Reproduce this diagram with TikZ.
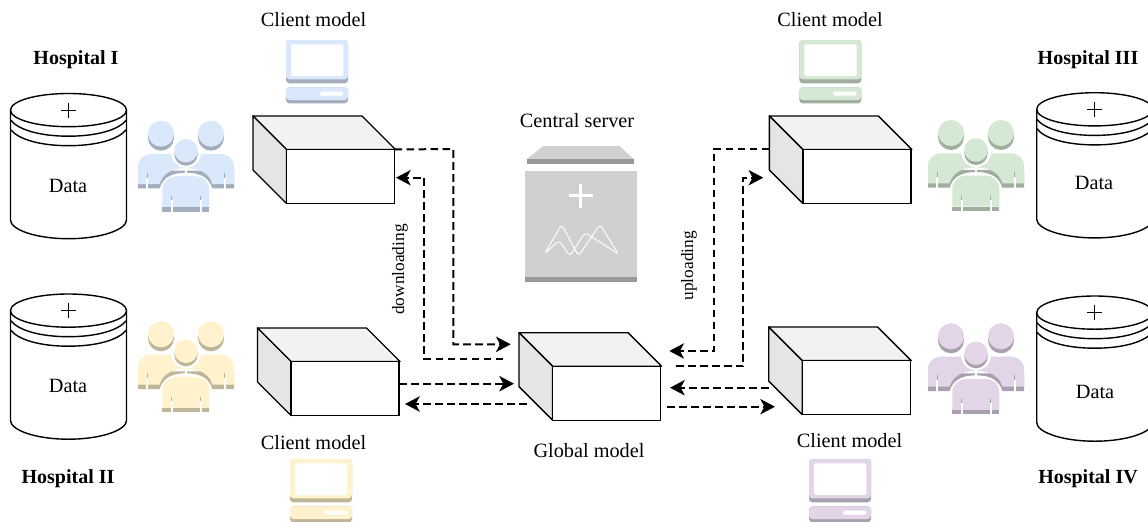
\documentclass[tikz,border=0pt]{standalone}
\usepackage{fontspec}
\setmainfont{Liberation Serif}
\usetikzlibrary{arrows.meta}
\definecolor{blueM}{HTML}{DAE8FC}\definecolor{blueS}{HTML}{A3ADBD}
\definecolor{yelM}{HTML}{FFF2CC}\definecolor{yelS}{HTML}{BFB599}
\definecolor{greenM}{HTML}{D5E8D4}\definecolor{greenS}{HTML}{A0AE9F}
\definecolor{purM}{HTML}{E1D5E7}\definecolor{purS}{HTML}{A9A0AD}
\definecolor{srvM}{HTML}{D0D0D0}\definecolor{srvS}{HTML}{999999}
\tikzset{
  x=0.75pt,y=-0.75pt,
  lbl/.style={font=\fontsize{15.2}{18}\selectfont,inner sep=0pt,outer sep=0pt},
  small/.style={font=\fontsize{13}{16}\selectfont,inner sep=0pt,outer sep=0pt},
  head/.style={lbl,font=\fontsize{15}{18}\selectfont\bfseries},
  stroke/.style={line width=1.05pt,line join=round,draw=black},
  face/.style={draw=black,fill=white,line width=1.05pt,minimum width=81pt,minimum height=40.5pt,inner sep=0pt,outer sep=0pt,anchor=north west},
  flow/.style={line width=1.5pt,dash pattern=on 5.8pt off 3.2pt,-{Stealth[length=11pt,width=11.5pt,inset=3pt]}},
}
% name, back-top-left x, y
\newcommand\cuboid[3]{%
  \begin{scope}[shift={(#2,#3)}]
    \fill[stroke,fill=black!5] (0,0) -- (109,0) -- (142.5,33.5) -- (33.5,33.5) -- cycle;
    \fill[stroke,fill=black!10] (0,0) -- (33.5,33.5) -- (33.5,87.5) -- (0,54) -- cycle;
    \node[face] (#1) at (33.5,33.5) {};
  \end{scope}}
% name, left x, top y
\newcommand\datastore[3]{%
  \begin{scope}[shift={(#2,#3)}]
    \path[stroke,fill=white] (0,16.6) -- (0,126.5) .. controls (0,136) and (25,145.2) .. (58,145.2) .. controls (91,145.2) and (116,136) .. (116,126.5) -- (116,16.6) -- cycle;
    \draw[stroke] (0,36) .. controls (8,46) and (30,52.2) .. (58,52.2) .. controls (86,52.2) and (108,46) .. (116,36);
    \draw[stroke] (0,26.5) .. controls (8,36.5) and (30,42.7) .. (58,42.7) .. controls (86,42.7) and (108,36.5) .. (116,26.5);
    \path[stroke,fill=white] (58,16.6) ellipse [x radius=58,y radius=16.6];
    \draw[line width=0.6pt] (50.5,16.5) -- (65.5,16.5) (58,9) -- (58,24);
    \coordinate (#1) at (58,16.6);
  \end{scope}}
\newcommand\sideperson[2]{%
  \fill[#2] (0,67.7) -- (0,50) -- (46.8,50) -- (46.8,52) .. controls (33,52) and (24,58.4) .. (21.7,67.7) -- cycle;
  \fill[#1] (0,63.3) -- (0,46) .. controls (0,38) and (6,33.3) .. (14,33.3) -- (46.8,33.3) -- (46.8,47.5) .. controls (33,47.5) and (24,54) .. (21.7,63.3) -- cycle;
  \draw[#2,line width=0.9pt] (9.3,52) -- (9.3,57);
  \draw[white,line width=1.4pt] (9.3,57) -- (9.3,68);
  \fill[#2] (23,17) circle [radius=13];
  \fill[#1] (23,13) circle [radius=13];}
% x, y, main, shade
\newcommand\people[4]{%
  \begin{scope}[shift={(#1,#2)}]
    \sideperson{#3}{#4}
    \begin{scope}[shift={(96,0)},xscale=-1]\sideperson{#3}{#4}\end{scope}
    \fill[white] (48,32) circle [radius=15];
    \fill[#4] (48,33.3) circle [radius=11.7];
    \fill[#3] (48,30) circle [radius=11.7];
    \path[fill=#3,draw=white,line width=2.2pt] (24.3,86.6) -- (24.3,69) .. controls (24.3,61) and (31,55.5) .. (38,55.5) -- (58,55.5) .. controls (65,55.5) and (71.3,61) .. (71.3,69) -- (71.3,86.6) -- cycle;
    \fill[#3] (24.3,86.6) -- (24.3,69) .. controls (24.3,61) and (31,55.5) .. (38,55.5) -- (58,55.5) .. controls (65,55.5) and (71.3,61) .. (71.3,69) -- (71.3,86.6) -- cycle;
    \fill[#4] (24.3,91) rectangle (71.3,86.6);
    \draw[#4,line width=0.9pt] (33.7,75.5) -- (33.7,79.5) (62.7,75.5) -- (62.7,79.5);
    \draw[white,line width=1.4pt] (33.7,79.5) -- (33.7,91.3) (62.7,79.5) -- (62.7,91.3);
  \end{scope}}
\newcommand\computer[4]{%
  \begin{scope}[shift={(#1,#2)}]
    \fill[#4,rounded corners=2.5pt] (0,0) rectangle (62,43.3);
    \fill[#3,rounded corners=2.5pt] (0,0) rectangle (62,39.3);
    \fill[white,rounded corners=1.2pt] (5,4.3) rectangle (57.3,36);
    \fill[#4,rounded corners=2.5pt] (0,47.3) rectangle (62,63.3);
    \fill[#3,rounded corners=2.5pt] (0,47.3) rectangle (62,60);
    \fill[white,rounded corners=1pt] (34,51.7) rectangle (57.3,55.7);
  \end{scope}}
\begin{document}
\begin{tikzpicture}
\clip (0,0) rectangle (1148,521);
\fill[white] (0,0) rectangle (1148,521);
% hospitals
\datastore{dsA}{10.5}{93.5}
\datastore{dsB}{10.5}{294}
\datastore{dsC}{1036.7}{92.7}
\datastore{dsD}{1036.7}{296}
\node[lbl] (tA) at (68,186) {Data};
\node[lbl] (tB) at (68,386) {Data};
\node[lbl] (tC) at (1094,182.5) {Data};
\node[lbl] (tD) at (1095,392) {Data};
\node[head] (hA) at (76,59.5) {Hospital I};
\node[head] (hB) at (68,478.5) {Hospital II};
\node[head] (hC) at (1088,59.5) {Hospital III};
\node[head] (hD) at (1088,478.5) {Hospital IV};
% people
\people{138}{120.7}{blueM}{blueS}
\people{138}{321.3}{yelM}{yelS}
\people{928}{120}{greenM}{greenS}
\people{928}{323.3}{purM}{purS}
% computers
\computer{286}{40}{blueM}{blueS}
\computer{290}{459}{yelM}{yelS}
\computer{799.3}{40}{greenM}{greenS}
\computer{809}{459}{purM}{purS}
\node[lbl] (mA) at (313.5,20) {Client model};
\node[lbl] (mB) at (313.5,443) {Client model};
\node[lbl] (mC) at (830,20) {Client model};
\node[lbl] (mD) at (849.5,440.5) {Client model};
% cuboids
\cuboid{cA}{253}{116}
\cuboid{cB}{257.5}{328}
\cuboid{cC}{769.3}{116}
\cuboid{cD}{768.7}{327}
\cuboid{cG}{519}{332.7}
\node[lbl] (gl) at (589,451) {Global model};
% central server
\fill[srvM] (543.3,146) -- (619.3,146) -- (634,159.3) -- (526.7,159.3) -- cycle;
\fill[srvS] (526.7,159.3) rectangle (634,164.3);
\fill[srvM] (525,171) rectangle (636.7,281.7);
\fill[srvS] (525,276.7) rectangle (636.7,281.7);
\draw[white,line width=1.9pt] (568.5,195.7) -- (593,195.7) (580.7,183.5) -- (580.7,208);
\draw[white,line width=0.7pt,line join=round,rounded corners=2.5pt]
  (544.5,254) -- (561.7,224.5) -- (578.5,256) -- (600,224.5) -- (618.5,254) -- (585,232.5) -- (570,256) -- (559,240.5) -- cycle;
\node[lbl] (srv) at (577,120.5) {Central server};
% connector waypoints
\coordinate (a1) at (453.3,149);
\coordinate (a2) at (453.3,344.3);
\coordinate (a3) at (510.7,344.3);
\coordinate (b0) at (503.3,359);
\coordinate (b1) at (424.3,359);
\coordinate (b2) at (424.3,177.7);
\coordinate (b3) at (396,177.7);
\coordinate (c0) at (399,383.7);
\coordinate (c1) at (514,383.7);
\coordinate (d0) at (526.7,404);
\coordinate (d1) at (405,404);
\coordinate (e0) at (769.3,148.7);
\coordinate (e1) at (714.3,148.7);
\coordinate (e2) at (714.3,351);
\coordinate (e3) at (669.3,351);
\coordinate (f0) at (676,366.3);
\coordinate (f1) at (743.3,366.3);
\coordinate (f2) at (743.3,177.7);
\coordinate (f3) at (763.3,177.7);
\coordinate (g0) at (769,387.7);
\coordinate (g1) at (670,387.7);
\coordinate (h0) at (667.3,406.7);
\coordinate (h1) at (775,406.7);
\draw[flow] (cA.north east) -- (a1) -- (a2) -- (a3);
\draw[flow] (b0) -- (b1) -- (b2) -- (b3);
\draw[flow] (c0) -- (c1);
\draw[flow] (d0) -- (d1);
\draw[flow] (e0) -- (e1) -- (e2) -- (e3);
\draw[flow] (f0) -- (f1) -- (f2) -- (f3);
\draw[flow] (g0) -- (g1);
\draw[flow] (h0) -- (h1);
\node[small,rotate=90] (dl) at (400,269.5) {downloading};
\node[small,rotate=90] (ul) at (689,265.7) {uploading};
\end{tikzpicture}
\end{document}
